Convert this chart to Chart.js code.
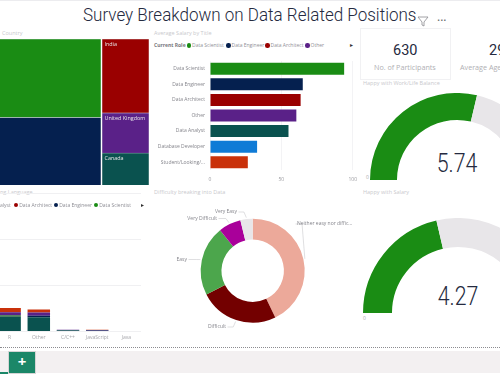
<!DOCTYPE html>
<html>
<head>
<meta charset="utf-8">
<script src="https://cdn.jsdelivr.net/npm/chart.js@4"></script>
<style>
html, body { margin: 0; padding: 0; background: #fff; }
body { position: relative; width: 500px; height: 375px; overflow: hidden; font-family: "Open Sans", sans-serif; }
canvas, .t, .box { position: absolute; }
.t { white-space: nowrap; line-height: 1; }
.panel { font-size: 5.5px; color: #c9c9cd; }
.role { font-size: 5px; color: #8f8f96; }
.dot { position: absolute; width: 4.5px; height: 4.5px; border-radius: 50%; }
.gauge { font-family: Roboto, sans-serif; font-weight: 300; font-size: 26px; color: #252a40; transform: translateX(-50%) scaleX(.82); }
.kpi { font-family: Roboto, sans-serif; font-size: 14.5px; color: #252a40; }
.kpilabel { font-size: 7.2px; color: #b0b0b4; }
</style>
</head>
<body>
<div class="box" style="left:0;top:0;width:500px;height:1px;background:#ececef"></div>
<div class="t" style="left:83px;top:6px;font-family:Roboto,sans-serif;font-weight:300;font-size:18.5px;color:#252a40;transform:scaleX(.92);transform-origin:left">Survey Breakdown on Data Related Positions</div>
<svg style="position:absolute;left:417px;top:16px" width="12" height="11"><path d="M1 1 H11 L7 6 V10 L5 9 V6 Z" fill="none" stroke="#8a8a90" stroke-width=".8"/></svg>
<div class="t" style="left:437px;top:11px;font-size:12px;color:#666">...</div>

<div class="t panel" style="left:2px;top:30.5px">Country</div>
<div class="t panel" style="left:154px;top:30.5px">Average Salary by Title</div>
<div class="t panel" style="left:0;top:190px">ng Language</div>
<div class="t panel" style="left:154px;top:190px">Difficulty breaking into Data</div>
<div class="t panel" style="left:363px;top:81px">Happy with Work/Life Balance</div>
<div class="t panel" style="left:363px;top:190px">Happy with Salary</div>

<div class="box" style="left:360px;top:28px;width:89px;height:50px;border:1px solid #f1f1f3"></div>
<div class="t kpi" style="left:393px;top:44px">630</div>
<div class="t kpilabel" style="left:374px;top:64px">No. of Participants</div>
<div class="t kpi" style="left:489px;top:44px">29</div>
<div class="t kpilabel" style="left:460px;top:64px">Average Age</div>

<div class="t gauge" style="left:457px;top:150px">5.74</div>
<div class="t gauge" style="left:458px;top:283px">4.27</div>
<div class="t" style="left:366px;top:175px;font-size:5px;color:#aaa">0</div>
<div class="t" style="left:363px;top:316px;font-size:5px;color:#aaa">0</div>

<div class="box" style="left:0;top:347px;width:500px;border-top:1px dotted #8c8c90"></div>
<div class="box" style="left:0;top:351px;width:500px;height:22px;background:#f3f0f1"></div>
<div class="box" style="left:0;top:373px;width:500px;height:2px;background:#fff"></div>
<div class="box" style="left:0;top:372px;width:9px;height:2px;background:#1b8768"></div>
<div class="box" style="left:9px;top:352px;width:26px;height:21px;background:#1b8768;outline:1px solid #d5d5d5"></div>
<div class="t" style="left:9px;top:354px;width:26px;text-align:center;font-size:15px;font-weight:700;color:#fff">+</div>

<canvas id="treeLeft" style="left:-30px;top:39px"></canvas>
<canvas id="treeRight" style="left:102px;top:39px"></canvas>
<canvas id="salaryChart" style="left:150px;top:53px"></canvas>
<canvas id="languageChart" style="left:-5px;top:193px"></canvas>
<canvas id="difficultyChart" style="left:150px;top:200px"></canvas>
<canvas id="gaugeWork" style="left:370px;top:93px"></canvas>
<canvas id="gaugeSalary" style="left:363px;top:218px"></canvas>

<div id="roleLegend"></div>
<div id="langLegend"></div>

<script>
const green = '#1a8c14', navy = '#05204f', red = '#9a0000', purple = '#5a2188',
      teal = '#0a524f', blue = '#0f7bd6', orange = '#c9310a', track = '#e8e6e9';

// treemap columns, participants per country
const leftCountries = ['Other', 'United States'];
const leftCounts = [215, 250];
const leftColors = [navy, green];
const rightCountries = ['Canada', 'United Kingdom', 'India'];
const rightCounts = [35, 44, 81];
const rightColors = [teal, purple, red];

// average salary
const roles = ['Data Scientist', 'Data Engineer', 'Data Architect', 'Other', 'Data Analyst', 'Database Developer', 'Student/Looking/...'];
const salaries = [94, 65, 63.5, 60.5, 55, 33, 26.5];
const roleColors = [green, navy, red, purple, teal, blue, orange];

// language stacks
const languages = ['R', 'Other', 'C/C++', 'JavaScript', 'Java'];
const analystCounts = [32, 31, 2, 0, 0];
const scientistCounts = [3, 0, 0, 0, 0];
const engineerCounts = [0, 3, 1, 2, 0];
const otherCounts = [6.5, 7, 1, 1, 1];
const studentCounts = [9.5, 6.5, 0, 1, 0];

// difficulty donut
const difficulty = ['Neither easy nor diffic...', 'Difficult', 'Easy', 'Very Difficult', 'Very Easy'];
const difficultyCounts = [270, 155, 137, 44, 24];
const difficultyColors = ['#eca99a', '#730000', '#4ca64c', '#a9009a', track];

// gauges
const workScore = [5.74, 4.26];
const salaryScore = [4.27, 5.73];

Chart.defaults.animation = false;
Chart.defaults.responsive = false;
Chart.defaults.font.family = '"Open Sans", sans-serif';
Chart.defaults.plugins.legend.display = false;
Chart.defaults.plugins.tooltip.enabled = false;

function sizeCanvas(id, w, h) {
    const c = document.getElementById(id);
    c.width = w;
    c.height = h;
    return c.getContext('2d');
}

const treeLabels = {
    id: 'treeLabels',
    afterDatasetsDraw(chart) {
        const ctx = chart.ctx;
        ctx.save();
        ctx.font = '5.4px "Open Sans", sans-serif';
        ctx.fillStyle = '#e8e8e8';
        ctx.textBaseline = 'top';
        chart.data.datasets.forEach((ds, i) => {
            const bar = chart.getDatasetMeta(i).data[0];
            ctx.fillText(ds.label, bar.x - bar.width / 2 + 2.5, bar.y + 3);
        });
        ctx.restore();
    }
};

function createTree(id, w, names, counts, colors, plugins) {
    new Chart(sizeCanvas(id, w, 146), {
        type: 'bar',
        data: {
            labels: [''],
            datasets: names.map((n, i) => ({
                label: n,
                data: [counts[i]],
                backgroundColor: colors[i],
                borderColor: '#d8dde0',
                borderWidth: 0.6,
                barPercentage: 1,
                categoryPercentage: 1
            }))
        },
        options: {
            scales: {
                x: { stacked: true, display: false },
                y: { stacked: true, display: false, max: counts.reduce((a, b) => a + b, 0) }
            }
        },
        plugins: plugins
    });
}

createTree('treeLeft', 131, leftCountries, leftCounts, leftColors, []);
createTree('treeRight', 47, rightCountries, rightCounts, rightColors, [treeLabels]);

new Chart(sizeCanvas('salaryChart', 214, 134), {
    type: 'bar',
    data: {
        labels: roles,
        datasets: [{ data: salaries, backgroundColor: roleColors, barPercentage: 0.77, categoryPercentage: 1 }]
    },
    options: {
        indexAxis: 'y',
        layout: { padding: { right: 9, top: 7 } },
        scales: {
            x: {
                min: 0, max: 100,
                afterFit(s) { s.height = 17; },
                ticks: { stepSize: 50, color: '#9a9a9f', font: { size: 5 }, padding: 7 },
                grid: { color: '#f3f3f5', drawTicks: false },
                border: { display: false }
            },
            y: {
                afterFit(s) { s.width = 60; },
                ticks: { color: '#85858c', font: { size: 5 }, padding: 5 },
                grid: { display: false, drawTicks: false },
                border: { display: false }
            }
        }
    }
});

new Chart(sizeCanvas('languageChart', 146, 152), {
    type: 'bar',
    data: {
        labels: languages,
        datasets: [
            { data: analystCounts, backgroundColor: teal },
            { data: scientistCounts, backgroundColor: '#2e6e3a' },
            { data: engineerCounts, backgroundColor: navy },
            { data: otherCounts, backgroundColor: purple },
            { data: studentCounts, backgroundColor: orange }
        ].map(d => ({ ...d, barPercentage: 0.77, categoryPercentage: 1 }))
    },
    options: {
        scales: {
            x: {
                stacked: true,
                afterFit(s) { s.height = 13.5; },
                ticks: { color: '#a5a5aa', font: { size: 5 }, padding: 3, maxRotation: 0, autoSkip: false },
                grid: { display: false, drawTicks: false },
                border: { display: false }
            },
            y: {
                stacked: true, min: 0, max: 300,
                afterFit(s) { s.width = 0; },
                ticks: { display: false, stepSize: 100 },
                grid: { color: '#f0f0f2', drawTicks: false },
                border: { display: false }
            }
        }
    }
});

// label anchors, relative to the canvas: text x, text y, text alignment
const donutSpots = [[147, 24, 'left'], [76, 127, 'right'], [37, 59.5, 'right'], [67, 18.5, 'right'], [87, 12, 'right']];
const donutLabels = {
    id: 'donutLabels',
    afterDraw(chart) {
        const ctx = chart.ctx;
        ctx.save();
        ctx.font = '5px "Open Sans", sans-serif';
        ctx.textBaseline = 'middle';
        chart.getDatasetMeta(0).data.forEach((arc, i) => {
            const [tx, ty, align] = donutSpots[i];
            const mid = (arc.startAngle + arc.endAngle) / 2;
            const sx = arc.x + Math.cos(mid) * (arc.outerRadius + 1.5);
            const sy = arc.y + Math.sin(mid) * (arc.outerRadius + 1.5);
            const lead = align === 'left' ? -1.5 : 1.5;
            ctx.strokeStyle = '#c9c9cd';
            ctx.lineWidth = 0.6;
            ctx.beginPath();
            ctx.moveTo(sx, sy);
            ctx.lineTo(sx + (tx + lead - sx) * 0.3, ty);
            ctx.lineTo(tx + lead, ty);
            ctx.stroke();
            ctx.fillStyle = '#85858c';
            ctx.textAlign = align;
            ctx.fillText(chart.data.labels[i], tx, ty);
        });
        ctx.restore();
    }
};

new Chart(sizeCanvas('difficultyChart', 210, 140), {
    type: 'doughnut',
    data: {
        labels: difficulty,
        datasets: [{ data: difficultyCounts, backgroundColor: difficultyColors, borderWidth: 0 }]
    },
    options: {
        cutout: '60%',
        layout: { padding: { left: 50.7, right: 55.3, top: 18.7, bottom: 17.3 } }
    },
    plugins: [donutLabels]
});

function createGauge(id, radius, values, cutout) {
    new Chart(sizeCanvas(id, radius * 2, radius), {
        type: 'doughnut',
        data: {
            datasets: [{ data: values, backgroundColor: [green, track], borderWidth: 0 }]
        },
        options: { rotation: -90, circumference: 180, cutout: cutout }
    });
}

createGauge('gaugeWork', 87, workScore, '69%');
createGauge('gaugeSalary', 95, salaryScore, '69.5%');

// legends: names and colours from the arrays, one row each
const roleLegendNames = ['Data Scientist', 'Data Engineer', 'Data Architect', 'Other'];
const roleLegendColors = [green, navy, red, purple];
const roleLegendX = [186.5, 226, 265, 305];
const langLegendNames = ['Data Analyst', 'Data Architect', 'Data Engineer', 'Data Scientist'];
const langLegendColors = [teal, red, navy, green];
const langLegendX = [-24, 13.7, 53.7, 93.7];

function createLegend(hostId, y, names, colors, xs) {
    const host = document.getElementById(hostId);
    names.forEach((n, i) => {
        const dot = document.createElement('div');
        dot.className = 'dot';
        dot.style.cssText = `left:${xs[i]}px;top:${y + 0.2}px;background:${colors[i]}`;
        host.appendChild(dot);
        const label = document.createElement('div');
        label.className = 't role';
        label.style.cssText = `left:${xs[i] + 5.5}px;top:${y}px`;
        label.textContent = n;
        host.appendChild(label);
    });
}

createLegend('roleLegend', 43, roleLegendNames, roleLegendColors, roleLegendX);
createLegend('langLegend', 202.5, langLegendNames, langLegendColors, langLegendX);
</script>
<div class="t role" style="left:154px;top:43px;font-weight:700;color:#77777d">Current Role</div>
<div class="t" style="left:350px;top:42px;font-size:6px;color:#333">&#9656;</div>
<div class="t" style="left:141px;top:202px;font-size:6px;color:#333">&#9656;</div>
</body>
</html>
